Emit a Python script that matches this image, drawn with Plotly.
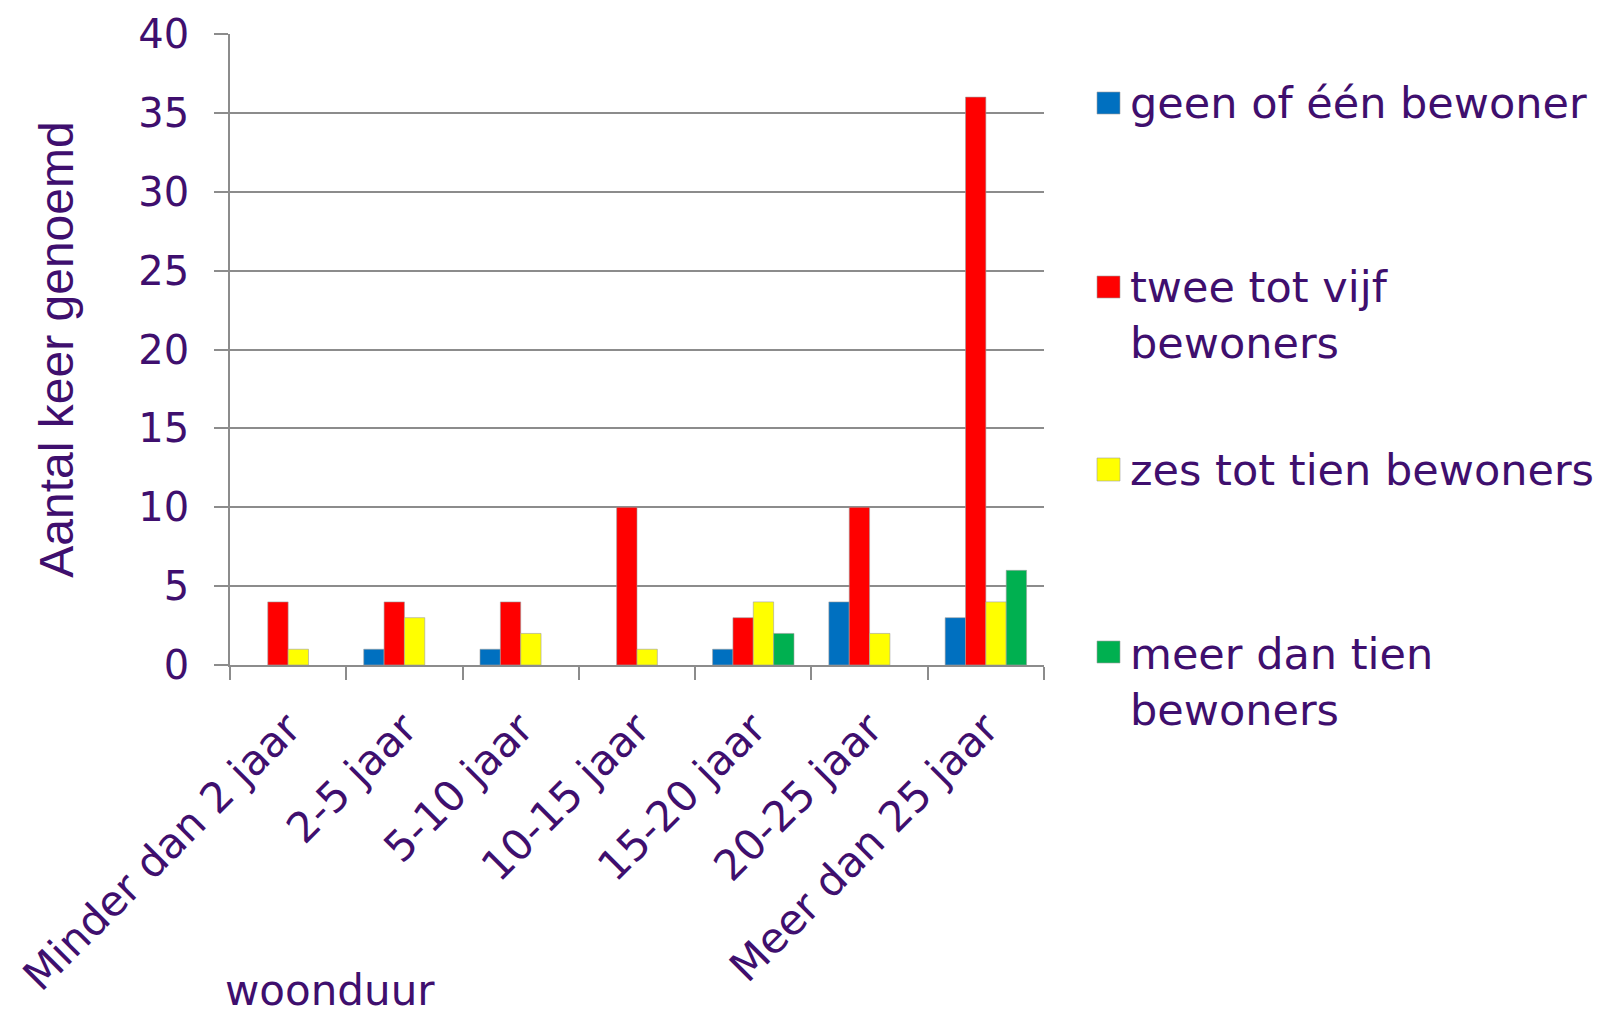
import plotly.graph_objects as go

categories = ["Minder dan 2 jaar", "2-5 jaar", "5-10 jaar", "10-15 jaar",
              "15-20 jaar", "20-25 jaar", "Meer dan 25 jaar"]
series_names = ["geen of één bewoner", "twee tot vijf bewoners",
                "zes tot tien bewoners", "meer dan tien bewoners"]
legend_labels = ["geen of één bewoner", "twee tot vijf<br>bewoners",
                 "zes tot tien bewoners", "meer dan tien<br>bewoners"]
geen_of_een = [0, 1, 1, 0, 1, 4, 3]
twee_tot_vijf = [4, 4, 4, 10, 3, 10, 36]
zes_tot_tien = [1, 3, 2, 1, 4, 2, 4]
meer_dan_tien = [0, 0, 0, 0, 2, 0, 6]
y_ticks = [0, 5, 10, 15, 20, 25, 30, 35, 40]

values = [geen_of_een, twee_tot_vijf, zes_tot_tien, meer_dan_tien]
colors = ["#0070C0", "#FF0000", "#FFFF00", "#00B050"]
TXT = "#3F0F6E"

OFF = 8  # page body margin: figure starts 8px into the window
W, H = 1604 - OFF, 1017 - OFF
# plot area in screen pixels
SL, SR, ST, SB = 230, 1044, 34, 665
L, R, T, B = SL - OFF, SR - OFF, ST - OFF, SB - OFF


def px_x(x):  # screen px -> paper
    return (x - OFF - L) / (R - L)


def px_y(y):
    return (B - (y - OFF)) / (B - T)


fig = go.Figure()
for name, vals, col in zip(series_names, values, colors):
    fig.add_trace(go.Bar(x=categories, y=vals, name=name,
                         marker=dict(color=col,
                                     line=dict(color="#A0A0A0",
                                               width=[0.6 if v else 0 for v in vals])),
                         showlegend=False))

# manual legend (squares + labels) to match the Excel-style layout
legend_sq = [(92, 114), (276, 298), (458, 481), (641, 663)]
legend_txt_top = [76, 260, 443, 627]
shapes = []
annotations = []
for (y0, y1), ty, lab, col in zip(legend_sq, legend_txt_top, legend_labels, colors):
    shapes.append(dict(type="rect", xref="paper", yref="paper",
                       x0=px_x(1097), x1=px_x(1120), y0=px_y(y1), y1=px_y(y0),
                       fillcolor=col, line=dict(color="#A0A0A0", width=0.6)))
    annotations.append(dict(text=lab, xref="paper", yref="paper",
                            x=px_x(1128), y=px_y(ty), xanchor="left", yanchor="top",
                            align="left", showarrow=False,
                            font=dict(family="DejaVu Sans", size=43, color=TXT)))

annotations.append(dict(text="woonduur", xref="paper", yref="paper",
                        x=px_x(330), y=px_y(1017), xanchor="center", yanchor="bottom",
                        showarrow=False,
                        font=dict(family="DejaVu Sans", size=42, color=TXT)))

fig.update_layout(
    width=W, height=H,
    margin=dict(l=L, r=W - R, t=T, b=H - B, autoexpand=False),
    paper_bgcolor="white", plot_bgcolor="white",
    barmode="group", bargap=0.3, bargroupgap=0,
    shapes=shapes, annotations=annotations,
)
fig.update_yaxes(
    range=[0, 40], tickvals=y_ticks, automargin=False,
    showgrid=True, gridcolor="#8C8C8C", gridwidth=1.5,
    showline=True, linecolor="#8C8C8C", linewidth=1.5,
    ticks="outside", ticklen=14, tickcolor="#8C8C8C", tickwidth=1.5,
    ticklabelstandoff=17,
    tickfont=dict(family="DejaVu Sans", size=40, color=TXT),
    zeroline=False,
    title=dict(text="Aantal keer genoemd", standoff=50,
               font=dict(family="Liberation Sans", size=48, color=TXT)),
)
fig.update_xaxes(
    type="category", tickangle=-45, automargin=False,
    showline=True, linecolor="#8C8C8C", linewidth=1.5,
    ticks="outside", ticklen=13, tickcolor="#8C8C8C", tickwidth=1.5,
    tickson="boundaries", ticklabelstandoff=20,
    tickfont=dict(family="DejaVu Sans", size=42, color=TXT),
    showgrid=False,
)

fig.write_html("out.html")
